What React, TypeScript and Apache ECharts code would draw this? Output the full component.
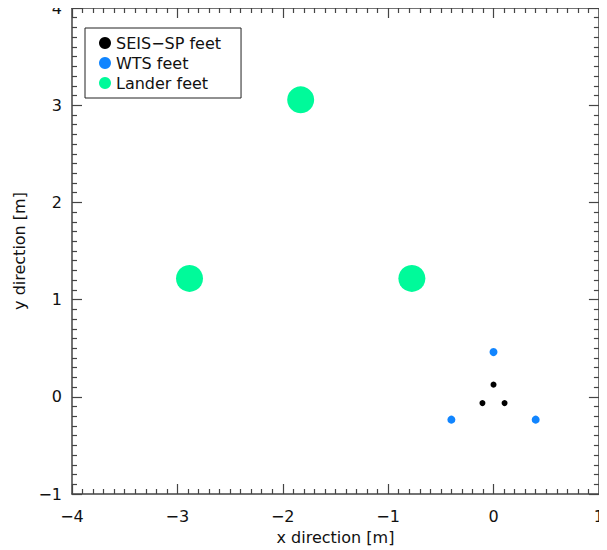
import React, { useEffect, useRef } from "react";
import * as echarts from "echarts";

const seisX = [0, -0.105, 0.105];
const seisY = [0.125, -0.065, -0.065];
const wtsX = [0, -0.4, 0.4];
const wtsY = [0.46, -0.235, -0.235];
const landerX = [-2.885, -1.83, -0.775];
const landerY = [1.218, 3.055, 1.218];

const seriesNames = ["SEIS\u2212SP feet", "WTS feet", "Lander feet"];
const xRange = [-4, 1];
const yRange = [-1, 4];

const FONT = "DejaVu Sans";
const AXIS_COLOR = "#444";

const fmt = (v: number) => String(v).replace("-", "\u2212");

function pts(xs: number[], ys: number[]) {
  return xs.map((x, i) => [x, ys[i]]);
}

function Chart() {
  const ref = useRef<HTMLDivElement>(null);
  useEffect(() => {
    if (!ref.current) return;
    const chart = echarts.init(ref.current, undefined, { renderer: "svg" });
    const mk = (min: number, max: number): any => ({
      type: "value",
      min,
      max,
      interval: 1,
      splitLine: { show: false },
      axisLine: { show: true, onZero: false, lineStyle: { color: AXIS_COLOR, width: 1.5 } },
      axisTick: { show: true, inside: true, length: 10, lineStyle: { color: AXIS_COLOR, width: 1.2 } },
      minorTick: { show: true, splitNumber: 10, length: 5, lineStyle: { color: AXIS_COLOR, width: 1.2 } },
      minorSplitLine: { show: false },
    });
    const x0: any = {
      ...mk(xRange[0], xRange[1]),
      position: "bottom",
      name: "x direction [m]",
      nameLocation: "middle",
      nameGap: 35,
      nameTextStyle: { fontFamily: FONT, fontSize: 16, color: "#111" },
      axisLabel: { show: true, margin: 14, fontFamily: FONT, fontSize: 16, color: "#111", formatter: fmt },
    };
    const y0: any = {
      ...mk(yRange[0], yRange[1]),
      position: "left",
      name: "y direction [m]",
      nameLocation: "middle",
      nameGap: 42,
      nameTextStyle: { fontFamily: FONT, fontSize: 16, color: "#111" },
      axisLabel: { show: true, margin: 10, fontFamily: FONT, fontSize: 16, color: "#111", formatter: fmt },
    };
    const x1: any = { ...mk(xRange[0], xRange[1]), position: "top", axisLabel: { show: false } };
    const y1: any = { ...mk(yRange[0], yRange[1]), position: "right", axisLabel: { show: false } };
    const opt: any = {
      animation: false,
      title: { text: "", show: false },
      grid: { left: 72, right: 5, top: 8, bottom: 55 },
      xAxis: [x0, x1],
      yAxis: [y0, y1],
      backgroundColor: "#fff",
      textStyle: { fontFamily: FONT },
      legend: {
        data: seriesNames,
        orient: "vertical",
        left: 85,
        top: 28,
        padding: [7, 20, 7, 14],
        itemGap: 4,
        itemWidth: 12,
        itemHeight: 12,
        borderColor: "#222",
        borderWidth: 1,
        icon: "circle",
        textStyle: { fontFamily: FONT, fontSize: 16, color: "#111" },
      },
      series: [
        {
          name: seriesNames[0],
          type: "scatter",
          data: pts(seisX, seisY),
          symbolSize: 6,
          itemStyle: { color: "#000", opacity: 1 },
          z: 4,
        },
        {
          name: seriesNames[1],
          type: "scatter",
          data: pts(wtsX, wtsY),
          symbolSize: 8,
          itemStyle: { color: "#1185ff", opacity: 1 },
          z: 3,
        },
        {
          name: seriesNames[2],
          type: "scatter",
          data: pts(landerX, landerY),
          symbolSize: 27,
          itemStyle: { color: "#00fa9a", opacity: 1 },
          z: 2,
        },
      ],
    };
    chart.setOption(opt);
    return () => chart.dispose();
  }, []);
  return <div ref={ref} style={{ width: 607, height: 550, display: "inline-block" }} />;
}

export default function App() {
  return (
    <div style={{ margin: -8 }}>
      <Chart />
    </div>
  );
}
